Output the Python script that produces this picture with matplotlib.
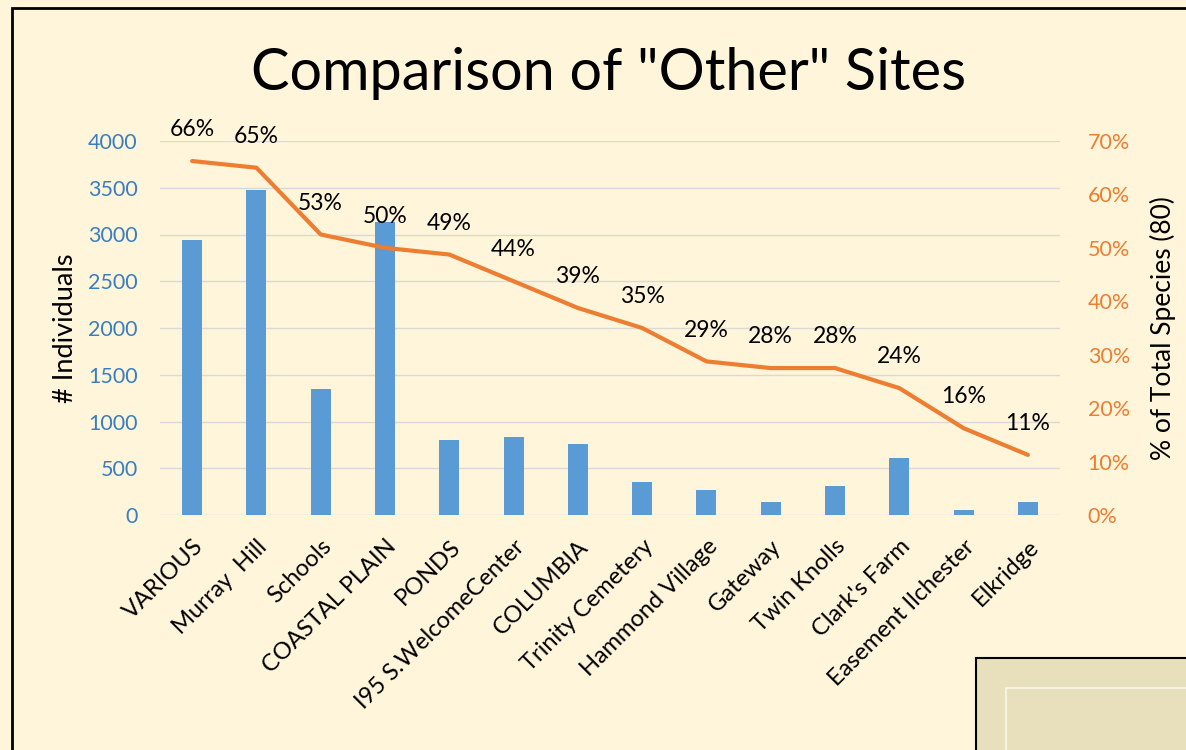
import numpy as np
import matplotlib.pyplot as plt
from matplotlib.patches import Rectangle

# data
sites = ["VARIOUS", "Murray  Hill", "Schools", "COASTAL PLAIN", "PONDS",
         "I95 S.WelcomeCenter", "COLUMBIA", "Trinity Cemetery", "Hammond Village",
         "Gateway", "Twin Knolls", "Clark's Farm", "Easement Ilchester", "Elkridge"]
individuals = [2940, 3475, 1350, 3130, 800, 830, 760, 355, 265, 140, 315, 610, 50, 140]
species = [53, 52, 42, 40, 39, 35, 31, 28, 23, 22, 22, 19, 13, 9]
total_species = 80

bg = "#FFF5DB"
blue = "#5B9BD5"
orange = "#ED7D31"

plt.rcParams['font.family'] = ['Lato', 'DejaVu Sans']

fig = plt.figure(figsize=(11.86, 7.5), dpi=100, facecolor=bg)
ax = fig.add_axes([160 / 1186, 1 - 515 / 750, 900 / 1186, 374 / 750])
ax.set_facecolor(bg)
x = np.arange(len(sites))
ax.bar(x, individuals, width=0.31, color=blue, zorder=3)
ax.set_ylim(0, 4000)
ax.set_yticks(np.arange(0, 4001, 500))
ax.set_xlim(-0.5, len(sites) - 0.5)
ax.grid(axis='y', color='#D9D9D9', lw=1, zorder=0)
ax.tick_params(axis='y', colors='#3A7EC0', labelsize=15.5, length=0, pad=16)
ax.tick_params(axis='x', length=0, labelsize=17, pad=15)
ax.set_xticks(x)
ax.set_xticklabels(sites, rotation=45, ha='right', rotation_mode='anchor')
for s in ax.spines.values():
    s.set_visible(False)
ax.set_ylabel("# Individuals", fontsize=19.5, labelpad=7)

ax2 = ax.twinx()
pct = np.array(species) / total_species * 100
ax2.plot(x, pct, color=orange, lw=3, solid_capstyle='round', zorder=4)
ax2.set_ylim(0, 70)
ax2.set_yticks(np.arange(0, 71, 10))
ax2.set_yticklabels([f"{v}%" for v in range(0, 71, 10)])
ax2.tick_params(axis='y', colors=orange, labelsize=15.5, length=0, pad=20)
for s in ax2.spines.values():
    s.set_visible(False)
ax2.set_ylabel("% of Total Species (80)", fontsize=19, labelpad=14)
for xi, p in zip(x, pct):
    ax2.annotate(f"{int(p + 0.5)}%", (xi, p), xytext=(0, 22.5), textcoords='offset points',
                 ha='center', va='center', fontsize=16.5)

fig.text(609 / 1186, 1 - 74 / 750, 'Comparison of "Other" Sites', ha='center', va='center', fontsize=41.5)

# outer frame and the box at the lower right
fig.patches.append(Rectangle((12 / 1186, -0.1), 1.2, 1.1 - 8 / 750, transform=fig.transFigure,
                             fill=False, ec='black', lw=2, zorder=0))
fig.patches.append(Rectangle((976 / 1186, -0.1), 0.3, 0.1 + 92 / 750, transform=fig.transFigure,
                             fc='#E8E0BC', ec='black', lw=1.5, zorder=5))
fig.patches.append(Rectangle((1006 / 1186, -0.1), 0.3, 0.1 + 62 / 750, transform=fig.transFigure,
                             fill=False, ec='#FAF7EE', lw=1.2, zorder=6))

fig.savefig("out.png", dpi=100, facecolor=bg)
